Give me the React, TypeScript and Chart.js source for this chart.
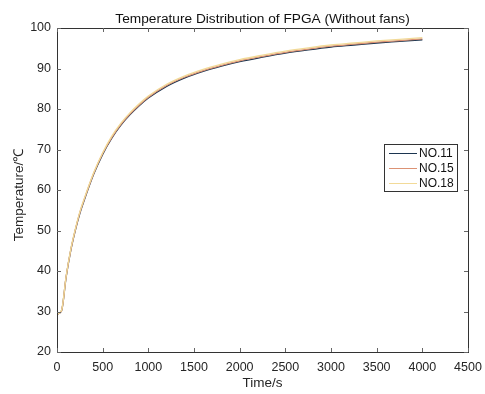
import React, { useEffect, useRef } from "react";
import { Chart, registerables } from "chart.js";

Chart.register(...registerables);

// Time samples (s)
const timeS = [0, 50, 100, 150, 200, 250, 300, 400, 500, 600, 700, 800, 900, 1000, 1200, 1400, 1600, 1800, 2000, 2250, 2500, 2750, 3000, 3250, 3500, 3750, 4000];

// Temperatures (°C) per sensor
const no11 = [29.3, 30.2, 38.5, 45.0, 50.0, 54.2, 57.6, 63.8, 68.8, 72.8, 76.0, 78.6, 80.8, 82.7, 85.6, 87.7, 89.3, 90.6, 91.7, 92.8, 93.8, 94.6, 95.3, 95.8, 96.3, 96.7, 97.1];
const no15 = [29.3, 30.2, 38.6, 45.1, 50.1, 54.4, 57.8, 64.0, 69.0, 73.0, 76.2, 78.8, 81.0, 82.9, 85.8, 87.9, 89.5, 90.8, 91.9, 93.0, 94.0, 94.8, 95.5, 96.0, 96.5, 96.9, 97.3];
const no18 = [29.3, 30.3, 38.7, 45.3, 50.3, 54.6, 58.0, 64.2, 69.2, 73.3, 76.5, 79.1, 81.3, 83.2, 86.1, 88.2, 89.8, 91.1, 92.2, 93.3, 94.3, 95.1, 95.8, 96.3, 96.8, 97.2, 97.6];

const seriesNames = ["NO.11", "NO.15", "NO.18"];
const seriesColors = ["#1c3550", "#dc9274", "#f2da98"];

const xTicks = [0, 500, 1000, 1500, 2000, 2500, 3000, 3500, 4000, 4500];
const yTicks = [20, 30, 40, 50, 60, 70, 80, 90, 100];

const titleText = "Temperature Distribution of FPGA (Without fans)";
const xLabel = "Time/s";
const yLabel = "Temperature/℃";

const FONT = "'Liberation Sans', Arial, Helvetica, sans-serif";
const TEXT = "#262626";

// Draws the axes box, inward ticks on all sides, the title, axis labels and legend.
const framePlugin = {
  id: "frame",
  afterDatasetsDraw(chart: any) {
    const { ctx, chartArea: a, scales } = chart;
    const xs = scales.x;
    const ys = scales.y;
    ctx.save();
    ctx.strokeStyle = "#333";
    ctx.lineWidth = 1;
    ctx.strokeRect(Math.round(a.left) + 0.5, Math.round(a.top) + 0.5, Math.round(a.right - a.left), Math.round(a.bottom - a.top));
    const tl = 4;
    ctx.strokeStyle = "#666";
    ctx.beginPath();
    for (const v of xTicks) {
      const px = Math.round(xs.getPixelForValue(v)) + 0.5;
      ctx.moveTo(px, a.bottom);
      ctx.lineTo(px, a.bottom - tl);
      ctx.moveTo(px, a.top);
      ctx.lineTo(px, a.top + tl);
    }
    for (const v of yTicks) {
      const py = Math.round(ys.getPixelForValue(v)) + 0.5;
      ctx.moveTo(a.left, py);
      ctx.lineTo(a.left + tl, py);
      ctx.moveTo(a.right, py);
      ctx.lineTo(a.right - tl, py);
    }
    ctx.stroke();

    // title
    ctx.fillStyle = "#111";
    ctx.font = `13.7px ${FONT}`;
    ctx.textAlign = "center";
    ctx.textBaseline = "middle";
    const cx = (a.left + a.right) / 2;
    ctx.fillText(titleText, cx, 19);

    // axis labels
    ctx.fillStyle = TEXT;
    ctx.font = `13.5px ${FONT}`;
    ctx.fillText(xLabel, cx, 383);
    ctx.save();
    ctx.translate(19, 195);
    ctx.rotate(-Math.PI / 2);
    ctx.fillText(yLabel, 0, 0);
    ctx.restore();

    // legend
    const lx = 384.5, ly = 144.5, lw = 73, lh = 47;
    ctx.fillStyle = "#fff";
    ctx.fillRect(lx, ly, lw, lh);
    ctx.strokeStyle = "#333";
    ctx.lineWidth = 1;
    ctx.strokeRect(lx, ly, lw, lh);
    ctx.font = `12px ${FONT}`;
    ctx.textAlign = "left";
    seriesNames.forEach((name, i) => {
      const y = 153.5 + i * 15;
      ctx.strokeStyle = seriesColors[i];
      ctx.lineWidth = 1;
      ctx.beginPath();
      ctx.moveTo(389, y);
      ctx.lineTo(417, y);
      ctx.stroke();
      ctx.fillStyle = "#111";
      ctx.fillText(name, 419, y + 0.5);
    });
    ctx.restore();
  },
};

export default function App() {
  const canvasRef = useRef<HTMLCanvasElement>(null);

  useEffect(() => {
    document.body.style.margin = "0";
    const canvas = canvasRef.current;
    if (!canvas) return;
    const values = [no11, no15, no18];
    const chart = new Chart(canvas, {
      type: "line",
      data: {
        datasets: values.map((vals, i) => ({
          label: seriesNames[i],
          data: timeS.map((t, k) => ({ x: t, y: vals[k] })),
          borderColor: seriesColors[i],
          backgroundColor: seriesColors[i],
          borderWidth: 1.3,
          pointRadius: 0,
          cubicInterpolationMode: "monotone" as const,
          order: 3 - i,
        })),
      },
      options: {
        animation: false,
        responsive: true,
        maintainAspectRatio: false,
        layout: { padding: { top: 28, right: 17, left: 0, bottom: 0 } },
        plugins: {
          legend: { display: false },
          title: { display: false },
          tooltip: { enabled: false },
        },
        scales: {
          x: {
            type: "linear",
            min: 0,
            max: 4500,
            afterFit: (s: any) => {
              s.height = 42;
              s.paddingLeft = 0;
              s.paddingRight = 0;
            },
            afterBuildTicks: (s: any) => {
              s.ticks = xTicks.map((v) => ({ value: v }));
            },
            grid: { display: false, drawTicks: false },
            border: { display: false },
            ticks: {
              padding: 8,
              color: TEXT,
              font: { family: FONT, size: 12.5 },
              maxRotation: 0,
              autoSkip: false,
              callback: (v: any) => String(v),
            },
          },
          y: {
            type: "linear",
            min: 20,
            max: 100,
            afterFit: (s: any) => {
              s.width = 57;
              s.paddingTop = 0;
              s.paddingBottom = 0;
            },
            afterBuildTicks: (s: any) => {
              s.ticks = yTicks.map((v) => ({ value: v }));
            },
            grid: { display: false, drawTicks: false },
            border: { display: false },
            ticks: {
              padding: 6,
              color: TEXT,
              font: { family: FONT, size: 12.5 },
              autoSkip: false,
              callback: (v: any) => String(v),
            },
          },
        },
      },
      plugins: [framePlugin],
    });
    return () => chart.destroy();
  }, []);

  return (
    <div style={{ width: 485, height: 394, position: "relative", background: "#fff" }}>
      <canvas ref={canvasRef} />
    </div>
  );
}
